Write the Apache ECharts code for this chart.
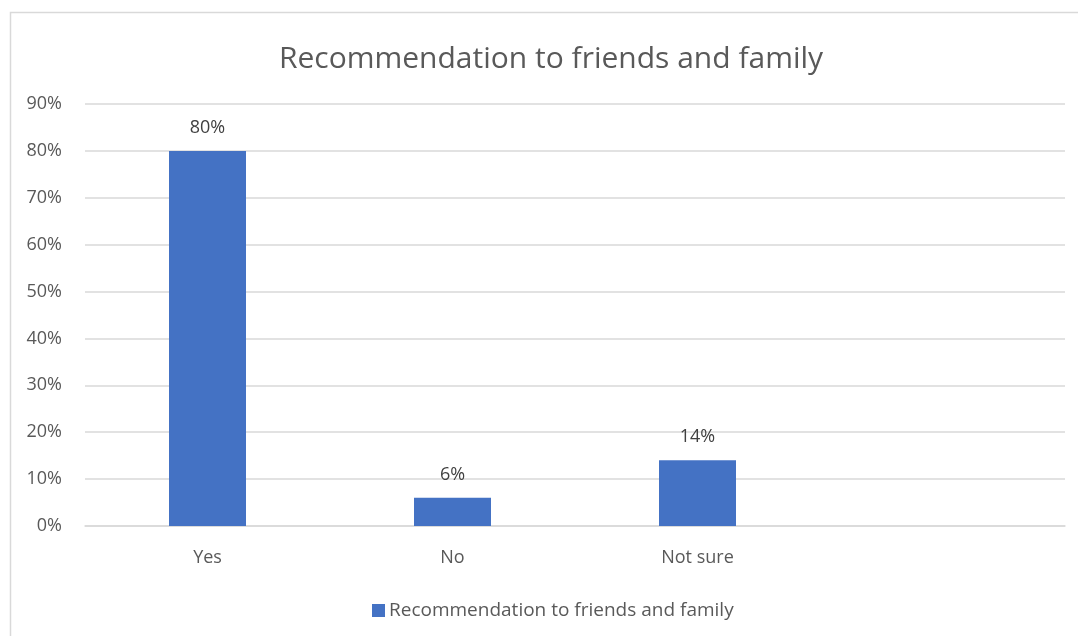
<!DOCTYPE html>
<html>
<head>
<meta charset="utf-8">
<script src="https://cdn.jsdelivr.net/npm/echarts@6/dist/echarts.min.js"></script>
<style>
  html, body { margin: 0; padding: 0; background: #fff; }
  #chart { width: 1078px; height: 636px; }
</style>
</head>
<body>
<div id="chart"></div>
<script>
// Survey answers: share of respondents who would recommend to friends and family
const categories = ['Yes', 'No', 'Not sure', ''];
const shares = [80, 6, 14, null];
const seriesName = 'Recommendation to friends and family';
const chartTitle = 'Recommendation to friends and family';
const yTicks = [0, 10, 20, 30, 40, 50, 60, 70, 80, 90];

const FONT = '"Open Sans", "Noto Sans", sans-serif';
const chart = echarts.init(document.getElementById('chart'));

chart.setOption({
  animation: false,
  backgroundColor: '#ffffff',
  graphic: [{
    type: 'rect',
    left: 8, top: 10,
    shape: { width: 1100, height: 700 },
    style: { fill: 'none', stroke: '#d9d9d9', lineWidth: 1.5 },
    silent: true, z: -1
  }],
  title: {
    text: chartTitle,
    left: 546,
    textAlign: 'center',
    top: 39,
    textStyle: { fontFamily: FONT, fontSize: 30, fontWeight: 'normal', color: '#595959' }
  },
  legend: {
    data: [seriesName],
    left: 367,
    top: 596,
    icon: 'rect',
    itemWidth: 13,
    itemHeight: 13,
    itemGap: 5,
    textStyle: { fontFamily: FONT, fontSize: 19, color: '#595959', padding: [0, 0, 0, -1] }
  },
  grid: { left: 85, right: 13, top: 104, bottom: 110, containLabel: false },
  xAxis: {
    type: 'category',
    data: categories,
    axisLine: { show: true, lineStyle: { color: '#d9d9d9', width: 1.5 } },
    axisTick: { show: false },
    axisLabel: { fontFamily: FONT, fontSize: 18, color: '#595959', margin: 23 }
  },
  yAxis: {
    type: 'value',
    min: yTicks[0],
    max: yTicks[yTicks.length - 1],
    interval: 10,
    axisLine: { show: false },
    axisTick: { show: false },
    splitLine: { lineStyle: { color: '#d9d9d9', width: 1.5 } },
    axisLabel: {
      fontFamily: FONT, fontSize: 18, color: '#595959', margin: 23,
      formatter: v => v + '%'
    }
  },
  series: [{
    name: seriesName,
    type: 'bar',
    data: shares,
    barWidth: 77,
    itemStyle: { color: '#4472c4' },
    label: {
      show: true,
      position: 'top',
      distance: 14,
      fontFamily: FONT, fontSize: 18, color: '#404040',
      formatter: p => p.value + '%'
    }
  }]
});
</script>
</body>
</html>
